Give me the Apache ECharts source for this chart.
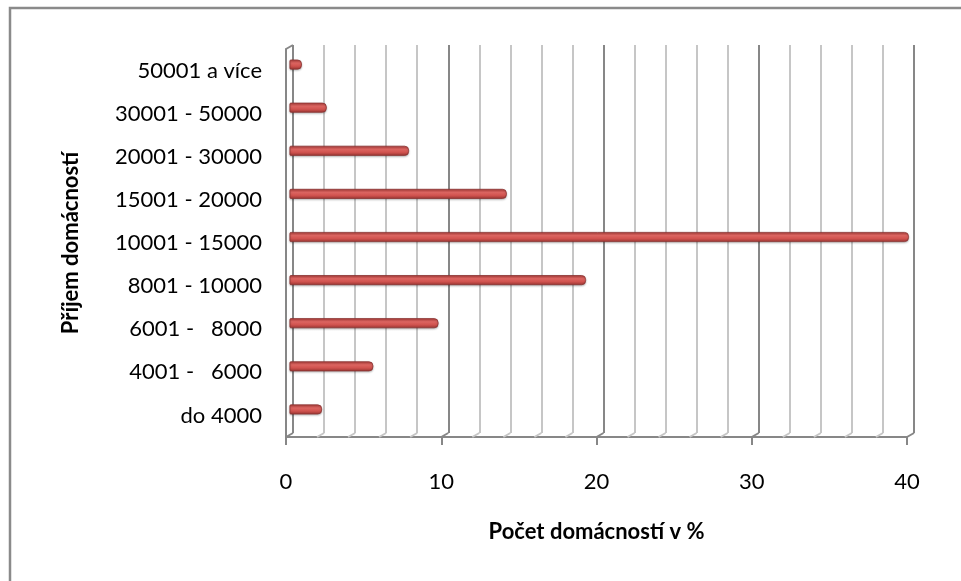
<!DOCTYPE html>
<html>
<head>
<meta charset="utf-8">
<script src="https://cdn.jsdelivr.net/npm/echarts@6/dist/echarts.min.js"></script>
<style>
  html, body { margin: 0; padding: 0; background: #fff; }
  #chart { width: 961px; height: 581px; }
</style>
</head>
<body>
<div id="chart"></div>
<script>
// Household income groups (bottom to top) and share of households in %
const categories = ['do 4000', '4001 -   6000', '6001 -   8000', '8001 - 10000', '10001 - 15000',
                    '15001 - 20000', '20001 - 30000', '30001 - 50000', '50001 a více'];
const shares = [2.1, 5.4, 9.6, 19.1, 39.9, 14.0, 7.7, 2.4, 0.8];
const xTicks = [0, 10, 20, 30, 40];
const xMin = 0, xMax = 40, minorStep = 2;

const font = 'Lato, "Open Sans", sans-serif';
const majorGrey = '#878787';
const minorGrey = '#c6c6c6';
const depth = [-7, 4]; // offset from back wall to front edge

// gridline positions on the back wall (every minor step)
const wallLines = [];
for (let v = xMin; v <= xMax; v += minorStep) wallLines.push(v);

const chart = echarts.init(document.getElementById('chart'), null, { renderer: 'canvas' });

chart.setOption({
  animation: false,
  backgroundColor: '#fff',
  graphic: [{
    type: 'rect', silent: true,
    shape: { x: 10, y: 8, width: 1200, height: 900 },
    style: { fill: 'none', stroke: '#8a8a8a', lineWidth: 2.5 }
  }],
  grid: [
    // back wall
    { left: 293, right: 47, top: 45, bottom: 148 },
    // front edge with axis labels
    { left: 286, right: 54, top: 49, bottom: 144 },
    // bars sit between the two planes
    { left: 289.5, right: 50.5, top: 43, bottom: 150 }
  ],
  xAxis: [
    {
      gridIndex: 0, type: 'value', min: xMin, max: xMax, interval: minorStep,
      axisLine: { show: false }, axisTick: { show: false }, axisLabel: { show: false },
      splitLine: { show: true, lineStyle: { color: [majorGrey, minorGrey, minorGrey, minorGrey, minorGrey], width: 2 } }
    },
    {
      gridIndex: 1, type: 'value', min: xMin, max: xMax, interval: 10,
      axisLine: { show: true, lineStyle: { color: majorGrey, width: 2 } },
      axisTick: { show: true, length: 8, lineStyle: { color: majorGrey, width: 2 } },
      axisLabel: { margin: 34, color: '#000', fontFamily: font, fontSize: 22,
                   formatter: v => xTicks.indexOf(v) >= 0 ? String(v) : '' },
      splitLine: { show: false },
      name: 'Počet domácností v %', nameLocation: 'middle', nameGap: 84,
      nameTextStyle: { color: '#000', fontFamily: font, fontSize: 22, fontWeight: 'bold' }
    },
    {
      gridIndex: 2, type: 'value', min: xMin, max: xMax, show: false
    }
  ],
  yAxis: [
    { gridIndex: 0, type: 'category', data: categories, show: false },
    {
      gridIndex: 1, type: 'category', data: categories,
      axisLine: { show: true, lineStyle: { color: majorGrey, width: 2 } },
      axisTick: { show: false },
      axisLabel: { margin: 24, color: '#000', fontFamily: font, fontSize: 22 },
      name: 'Příjem domácností', nameLocation: 'middle', nameGap: 204,
      nameTextStyle: { color: '#000', fontFamily: font, fontSize: 22, fontWeight: 'bold' }
    },
    { gridIndex: 2, type: 'category', data: categories, show: false }
  ],
  series: [
    {
      // short floor segments joining the wall gridlines to the front edge
      type: 'custom', xAxisIndex: 0, yAxisIndex: 0, silent: true, z: 1,
      data: wallLines.map(v => [v, 0]),
      renderItem: function (params, api) {
        const v = api.value(0);
        const cs = params.coordSys;
        const x = api.coord([v, 0])[0];
        const yb = cs.y + cs.height;
        const isMajor = v % 10 === 0;
        const children = [{
          type: 'line',
          shape: { x1: x, y1: yb, x2: x + depth[0], y2: yb + depth[1] },
          style: { stroke: isMajor ? majorGrey : minorGrey, lineWidth: 2 }
        }];
        if (v === xMin) {
          children.push({
            type: 'line',
            shape: { x1: x, y1: cs.y, x2: x + depth[0], y2: cs.y + depth[1] },
            style: { stroke: majorGrey, lineWidth: 2 }
          });
        }
        return { type: 'group', children: children };
      }
    },
    {
      type: 'bar', xAxisIndex: 2, yAxisIndex: 2, data: shares, barWidth: 10, z: 3,
      itemStyle: {
        borderRadius: [1, 4, 4, 1],
        borderColor: '#8a3432', borderWidth: 0.8,
        color: new echarts.graphic.LinearGradient(0, 0, 0, 1, [
          { offset: 0, color: '#b5403d' },
          { offset: 0.35, color: '#dc6561' },
          { offset: 0.65, color: '#d1534f' },
          { offset: 1, color: '#983532' }
        ]),
        shadowColor: 'rgba(0,0,0,0.25)', shadowBlur: 2, shadowOffsetY: 1
      }
    }
  ]
});
</script>
</body>
</html>
